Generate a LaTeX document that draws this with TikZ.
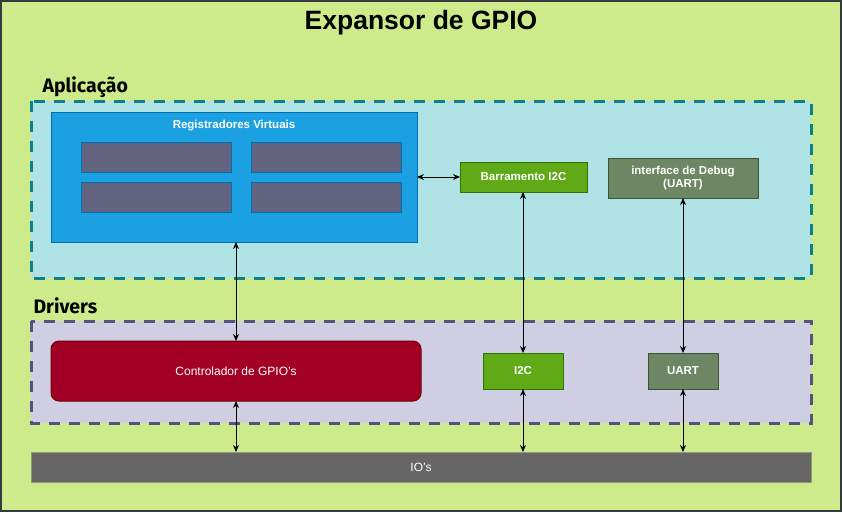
\documentclass[tikz,border=0pt]{standalone}
\usepackage{fontspec}
\setmainfont{Liberation Sans}
\newfontfamily\labelfont{Fira Sans}
\usetikzlibrary{arrows.meta}
\definecolor{bgg}{HTML}{CDEB8B}
\definecolor{bgstroke}{HTML}{36393D}
\definecolor{appfill}{HTML}{B0E3E6}
\definecolor{appstroke}{HTML}{0E8088}
\definecolor{drvfill}{HTML}{D0CEE2}
\definecolor{drvstroke}{HTML}{56517E}
\definecolor{regfill}{HTML}{1BA1E2}
\definecolor{regstroke}{HTML}{006EAF}
\definecolor{cellfill}{HTML}{62647F}
\definecolor{grnfill}{HTML}{60A917}
\definecolor{grnstroke}{HTML}{2D7600}
\definecolor{olvfill}{HTML}{6D8764}
\definecolor{olvstroke}{HTML}{3A5431}
\definecolor{redfill}{HTML}{A20025}
\definecolor{redstroke}{HTML}{6F0000}
\definecolor{iofill}{HTML}{666666}
\definecolor{iostroke}{HTML}{8C9A7A}
\tikzset{
  container/.style={draw, line width=3pt, dash pattern=on 11pt off 9pt},
  boxbase/.style={draw, line width=1pt, inner sep=0pt, outer sep=0pt, text=white, font=\fontsize{11.5}{13.5}\selectfont\bfseries, align=center},
  grnbox/.style={boxbase, fill=grnfill, draw=grnstroke},
  olvbox/.style={boxbase, fill=olvfill, draw=olvstroke},
  cell/.style={draw=regstroke, line width=1pt, fill=cellfill},
  layerlabel/.style={anchor=west, font=\labelfont\fontsize{19.5}{21}\selectfont\bfseries},
  link/.style={line width=1pt, {Stealth[length=7pt,width=6pt]}-{Stealth[length=7pt,width=6pt]}},
}
\begin{document}
\begin{tikzpicture}[x=1pt,y=-1pt]
\useasboundingbox (0,0) rectangle (842,512);
% background
\draw[fill=bgg, draw=bgstroke, line width=1.5pt] (1,1) rectangle (841,511);
\node[font=\fontsize{26.5}{30}\selectfont\bfseries] (title) at (421,23) {Expansor de GPIO};
% containers
\draw[container, fill=appfill, draw=appstroke] (31,101) rectangle (811,278);
\node[layerlabel] (applbl) at (39,87) {Aplicação};
\draw[container, fill=drvfill, draw=drvstroke] (31,321) rectangle (811,423);
\node[layerlabel] (drvlbl) at (30,306) {Drivers};
% registers
\node[boxbase, fill=regfill, draw=regstroke, minimum width=366pt, minimum height=130pt] (reg) at (234,177) {};
\node[text=white, font=\fontsize{11.5}{13.5}\selectfont\bfseries] (regt) at (234,126) {Registradores Virtuais};
\draw[cell] (81,142) rectangle (231,172);
\draw[cell] (251,142) rectangle (401,172);
\draw[cell] (81,182) rectangle (231,212);
\draw[cell] (251,182) rectangle (401,212);
% app boxes
\node[grnbox, minimum width=127pt, minimum height=30pt] (bus) at (523.5,177) {Barramento I2C};
\node[olvbox, minimum width=150pt, minimum height=40pt] (dbg) at (683,178) {interface de Debug\\(UART)};
% drivers
\node[boxbase, rounded corners=8pt, fill=redfill, draw=redstroke, minimum width=370pt, minimum height=60pt, font=\fontsize{12}{14}\selectfont] (gpio) at (236,371) {Controlador de GPIO's};
\node[grnbox, minimum width=80pt, minimum height=36pt] (i2c) at (523,371) {I2C};
\node[olvbox, minimum width=70pt, minimum height=36pt] (uart) at (683,371) {UART};
\node[boxbase, fill=iofill, draw=iostroke, minimum width=780pt, minimum height=30pt, font=\fontsize{12}{14}\selectfont] (io) at (421,467) {IO's};
% links
\draw[link] (reg.east |- bus.west) -- (bus.west);
\draw[link] (reg.south -| gpio.north) -- (gpio.north);
\draw[link] (bus.south -| i2c.north) -- (i2c.north);
\draw[link] (dbg.south) -- (uart.north);
\draw[link] (gpio.south) -- (gpio.south |- io.north);
\draw[link] (i2c.south) -- (i2c.south |- io.north);
\draw[link] (uart.south) -- (uart.south |- io.north);
\end{tikzpicture}
\end{document}
